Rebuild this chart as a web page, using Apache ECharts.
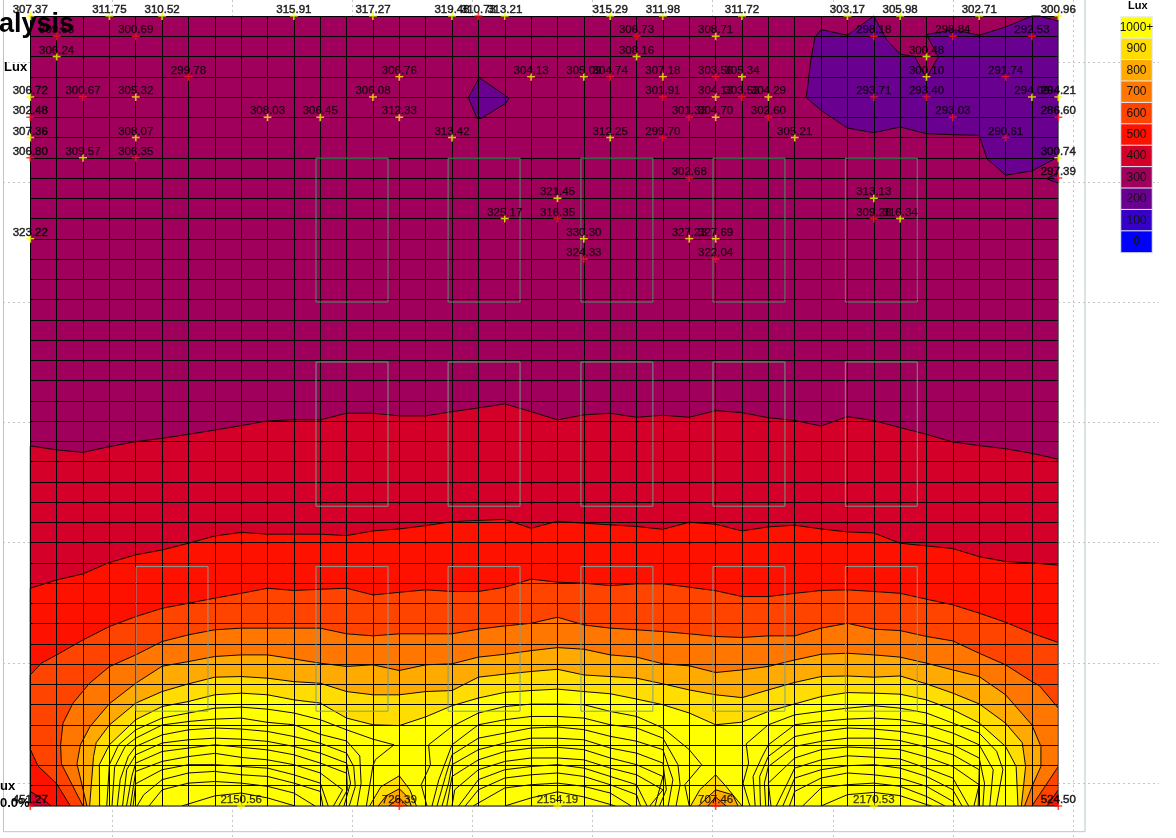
<!DOCTYPE html>
<html><head><meta charset="utf-8">
<style>html,body{margin:0;padding:0;background:#fff}#c{width:1176px;height:838px}</style>
<script src="https://cdn.jsdelivr.net/npm/echarts@6/dist/echarts.min.js"></script>
</head><body><div id="c"></div>
<script>
// Measurement points: [grid column, grid row, lux]
const yellowPoints=[[0,0,307.37],[3,0,311.75],[5,0,310.52],[10,0,315.91],[13,0,317.27],[1,2,306.24],[14,3,306.76],[0,4,306.72],[4,4,305.32],[13,4,306.08],[9,5,308.03],[11,5,306.45],[14,5,312.33],[0,6,307.36],[4,6,308.07],[2,7,309.57],[0,11,323.22],
[16,0,319.48],[18,0,313.21],[22,0,315.29],[24,0,311.98],[27,0,311.72],[26,1,308.71],[23,2,308.16],[19,3,304.13],[21,3,305.09],[24,3,307.18],[27,3,305.34],[26,4,304.13],[28,4,304.29],[26,5,304.70],[16,6,313.42],[22,6,312.25],[29,6,305.21],[20,9,321.45],[18,10,325.17],[21,11,330.30],[25,11,327.23],[26,11,327.69],
[31,0,303.17],[33,0,305.98],[36,0,302.71],[39,0,300.96],[34,2,300.48],[34,3,300.10],[38,4,294.09],[39,4,294.21],[39,7,300.74],[32,9,313.13],[33,10,316.34],[8,39,2150.56],[20,39,2154.19],[32,39,2170.53]];
const redPoints=[[1,1,309.58],[4,1,300.69],[6,3,299.78],[2,4,300.67],[0,5,302.48],[0,7,306.80],[4,7,306.35],[17,0,310.73],[23,1,306.73],[22,3,304.74],[26,3,303.56],[24,4,301.91],[27,4,303.53],[25,5,301.33],[28,5,302.60],[24,6,299.70],[25,8,302.68],[20,10,316.35],[21,12,324.33],[26,12,322.04],
[32,1,298.18],[35,1,298.84],[38,1,292.53],[37,3,291.74],[32,4,293.71],[34,4,293.40],[35,5,293.03],[39,5,286.60],[37,6,290.61],[39,8,297.39],[32,10,309.28],[0,39,451.27],[14,39,726.39],[26,39,707.46],[39,39,524.50]];

// Contour boundaries: row of the boundary at successive grid columns
const c400Rows=[21.22,21.42,21.54,21.26,21.01,20.85,20.65,20.44,20.22,19.99,19.93,19.94,19.61,19.61,19.74,19.74,19.53,19.35,19.15,19.53,19.94,19.69,19.61,19.81,19.71,19.81,19.48,19.58,19.83,19.97,20.24,19.78,19.97,20.32,20.65,21.03,21.21,21.36,21.59,21.88];
const c500Rows=[28.25,27.84,27.54,26.98,26.6,26.36,26.03,25.67,25.49,25.58,25.58,25.58,25.65,25.42,25.32,25.16,24.96,24.9,24.85,25.29,24.94,25.04,25.12,25.2,25.34,24.99,25.09,25.42,25.22,25.14,25.32,25.47,25.52,26.03,26.16,26.29,26.69,26.93,27.0,27.11];
const c600Rows=[31.54,30.8,30.14,29.65,29.24,28.99,28.74,28.5,28.25,28.36,28.3,28.25,28.58,28.45,28.33,28.41,28.41,28.2,27.8,27.95,28.0,28.12,28.03,28.03,28.2,28.37,28.66,28.66,28.5,28.36,28.33,28.41,28.5,28.79,29.07,29.48,29.93,30.47,30.93];
const c700Rows=[32.12,31.54,30.88,30.55,30.3,30.22,30.22,30.22,30.22,30.5,30.6,30.5,30.5,30.5,30.27,30.11,29.98,29.68,30.06,30.22,30.3,30.39,30.5,30.63,30.68,30.6,30.6,30.22,29.98,30.27,30.34,30.63,30.85,31.46,32.03,32.86];
const c800Rows=[33.95,32.94,32.1,31.87,31.62,31.54,31.54,31.74,31.95,32.11,32.03,32.31,32.03,31.98,31.65,31.51,31.33,31.18,31.26,31.54,31.65,31.98,32.08,32.41,32.28,32.11,31.79,31.51,31.46,31.54,31.65,31.95,32.28,32.61,33.51,35.0];
const c900Rows=[35,33.92,33.35,32.97,32.64,32.61,32.69,32.86,32.94,33.35,33.51,33.51,33.35,33.3,32.64,32.49,32.36,32.25,32.53,32.61,32.69,32.97,33.27,33.51,33.65,33.27,32.9,32.61,32.58,32.64,32.58,32.97,33.43,33.96,34.91];
const c1000Rows=[35.98,34.74,34.09,33.84,33.51,33.43,33.51,33.76,33.92,34.66,34.99,35.03,34.6,34.05,33.67,33.39,33.3,33.23,33.35,33.46,33.72,34.0,34.41,34.99,34.86,34.33,33.96,33.6,33.4,33.43,33.48,33.76,34.25,34.9,36.06];

// Free-form ends of the boundaries and closed low/high regions [column,row]
const c600Left=[[0,36.2],[0.29,37.02],[1,37.9],[1.52,39],[38.57,39],[39,38.2]], c600Start=[[0,32.53],[0.42,31.95]];
const c700Left=[[2,39],[1.18,36.92],[1.15,35.98],[1.24,34.91],[1.62,33.92],[2.25,32.94]], c700Right=[[38.29,33.07],[39,34.17],[39,37.05],[38,39]];
const c800Left=[[2.15,39],[1.77,36.92],[1.9,35.98],[2.27,35.07]], c800Right=[[38.34,36.06],[38.34,37.05],[38,38.04],[37.72,39]];
const c900Left=[[2.25,39],[2.4,36.56],[2.5,35.87]], c900Right=[[37.63,35.87],[37.76,37.05],[37.6,39]];
const c1000Left=[[2.63,39],[2.62,36.96]], c1000Right=[[37.4,37.05],[37.47,39]];
const lowIsland=[[16.62,4.03],[17.03,3.04],[18.16,4.05],[18.05,4.3],[17.1,5.06],[16.95,5.06]];
const lowCorner=[[29.44,4.03],[29.61,2.19],[29.77,1.04],[30,0.67],[31,0.95],[32,0],[32.46,1.12],[33,1.89],[33.54,1.99],[34,3.04],[34.45,2.02],[34,0.92],[35,0.67],[36,0.95],[37,0.54],[38,0],[38.29,0],[39,0.25],[39,6.96],[38,7.65],[37,7.86],[36.29,7.04],[36,5.89],[35,5.86],[34,5.81],[33,5.48],[32,5.76],[31,5.53],[30,4.66]];
const lowSliver=[[39,7.75],[38.54,8.03],[39,8.25]];
const cornerLow=[[0,38.28],[0.42,38.61],[0.8,39],[0,39]];
const lobeA900=[[12.87,39],[13.3,38.05],[14,37.51],[14.4,38.2],[14.65,39]];
const lobeA800=[[13.2,39],[13.5,38.5],[14,38.15],[14.35,38.6],[14.45,39]];
const lobeA700=[[13.6,39],[14,38.6],[14.3,39]];
const lobeB900=[[25.05,39],[25.4,38.2],[26,37.46],[26.4,38.04],[27,39]];
const lobeB800=[[25.35,39],[26,38.2],[26.65,38.45],[26.85,39]];
const lobeB700=[[25.7,39],[26,38.56],[26.4,39]];

// Contours above 1000 lux in the three bright lobes
const leftDomeLines=[
[[2.9,39],[3,36.96],[3.35,35.98],[4,35.24],[5,34.66],[6,34.41],[7,34.17],[8,34.12],[9,34.22],[10,34.41],[11,34.74],[12,35.24],[13,35.7],[13.8,35.98],[13.1,36.7],[13,37],[12.75,39]],
[[3.1,39],[3.2,37.08],[3.6,36.06],[4,35.65],[5,35],[6,34.83],[7,34.71],[8,34.66],[9,34.87],[10,34.99],[11,35.46],[12,35.79],[12.5,36.53],[12.55,37.88],[12.4,39]],
[[3.3,39],[3.41,37.7],[3.72,36.55],[4,36.06],[5,35.49],[6,35.24],[7,35.15],[8,35.2],[9,35.32],[10,35.57],[11,35.9],[12,36.39],[12.27,37.05],[12.33,38.04],[12.1,39]],
[[3.5,39],[3.66,37.2],[4,36.47],[5,35.89],[6,35.73],[7,35.65],[8,35.7],[9,35.81],[10,36.06],[11,36.39],[12,36.88],[12.15,37.87],[11.9,39]],
[[3.65,39],[3.85,37.54],[4,36.88],[5,36.31],[6,36.14],[7,35.98],[8,36.1],[9,36.23],[10,36.47],[11,36.88],[12,37.38],[12.03,38.2],[11.7,39]],
[[3.8,39],[4,37.29],[5,36.8],[6,36.56],[7,36.4],[8,36.6],[9,36.72],[10,36.96],[11,37.37],[11.85,38.2],[11.5,39]],
[[3.9,39],[4,37.9],[5,37.21],[6,36.96],[7,36.96],[8,37.05],[9,37.13],[10,37.46],[11,37.87],[11.3,39]],
[[4.05,39],[4.3,38.45],[5,37.7],[6,37.37],[7,37.29],[8,37.46],[9,37.54],[10,37.87],[11,38.28],[11.1,39]],
[[4.5,39],[5,38.2],[6,37.87],[7,37.79],[8,37.87],[9,38.03],[10,38.36],[10.8,39]],
[[5.75,39],[7,38.5],[8,38.36],[9,38.6],[10.05,39]]];
const midDomeLines=[
[[15.05,39],[14.83,37.95],[15.18,36.96],[15.11,35.98],[16,35.07],[17,34.41],[18,34.09],[19,33.97],[20,33.97],[21,34],[22,34.33],[23,34.58],[24,35.15],[25,36.22],[25.47,36.96],[24.83,37.95],[25,39]],
[[15.24,39],[15.5,37.7],[16,35.98],[17,34.99],[18,34.74],[19,34.58],[20,34.58],[21,34.66],[22,34.99],[23,35.15],[24,35.65],[24.57,36.96],[24.65,37.95],[24.5,39]],
[[15.43,39],[15.75,37.54],[16,36.47],[17,35.65],[18,35.4],[19,35.15],[20,35.1],[21,35.23],[22,35.56],[23,35.8],[24,36.22],[24.38,37.7],[24.2,39]],
[[15.62,39],[15.87,37.87],[16,36.96],[17,36.22],[18,35.89],[19,35.65],[20,35.65],[21,35.73],[22,36.14],[23,36.39],[24,36.88],[24.13,38.2],[23.87,39]],
[[15.8,39],[16,37.54],[17,36.72],[18,36.31],[19,36.14],[20,36.1],[21,36.22],[22,36.63],[23,36.96],[24,37.54],[23.7,39]],
[[16,39],[16.1,38.2],[17,37.21],[18,36.8],[19,36.63],[20,36.63],[21,36.72],[22,37.13],[23,37.46],[24,38.2],[23.5,39]],
[[16.25,39],[17,37.7],[18,37.21],[19,37.05],[20,36.96],[21,37.13],[22,37.54],[23,37.95],[23.4,39]],
[[16.5,39],[17,38.2],[18,37.62],[19,37.46],[20,37.37],[21,37.54],[22,37.95],[23,38.44],[23.15,39]],
[[16.8,39],[18,38.11],[19,37.95],[20,37.87],[21,38.03],[22,38.36],[22.8,39]],
[[18,39],[19,38.6],[20,38.3],[21,38.55],[22.2,39]]];
const rightDomeLines=[
[[27.3,39],[27.04,37.87],[27.25,36.88],[27.16,35.93],[28,34.99],[29,34.5],[30,34.33],[31,34.17],[32,34.05],[33,34.17],[34,34.41],[35,34.91],[36,35.4],[36.66,36.3],[36.9,37.2],[36.65,39]],
[[27.5,39],[27.42,37.54],[27.74,36.63],[28,35.98],[29,34.99],[30,34.83],[31,34.71],[32,34.66],[33,34.74],[34,34.99],[35,35.4],[36,35.98],[36.53,37.21],[36.4,39]],
[[27.7,39],[27.67,37.54],[28,36.55],[29,35.57],[30,35.32],[31,35.15],[32,35.2],[33,35.32],[34,35.57],[35,35.98],[36,36.63],[36.2,37.87],[36.14,39]],
[[27.9,39],[27.85,37.87],[28,37.05],[29,36.06],[30,35.81],[31,35.65],[32,35.65],[33,35.77],[34,36.09],[35,36.47],[36,37.21],[35.96,39]],
[[28.1,39],[28,37.87],[29,36.63],[30,36.22],[31,36.09],[32,36.14],[33,36.22],[34,36.58],[35,37.05],[36,37.95],[35.8,39]],
[[28.3,39],[29,37.13],[30,36.72],[31,36.52],[32,36.59],[33,36.68],[34,37.13],[35,37.62],[35.6,39]],
[[28.55,39],[29,37.62],[30,37.21],[31,37.01],[32,36.96],[33,37.13],[34,37.54],[35,38.2],[35.35,39]],
[[28.8,39],[29,38.28],[30,37.62],[31,37.37],[32,37.46],[33,37.62],[34,38.03],[35,38.77],[35.1,39]],
[[29.3,39],[30,38.11],[31,37.95],[32,37.87],[33,38.03],[34,38.53],[34.7,39]],
[[30,39],[31,38.44],[32,38.33],[33,38.49],[34,38.93],[34.2,39]]];

// Luminaire outlines: [left column, top row, right column, bottom row]
const luminaires=[[10.84,7.02,13.57,14.12],[15.85,7.02,18.58,14.12],[20.89,7.02,23.62,14.12],[25.9,7.02,28.63,14.12],[30.92,7.02,33.65,14.12],
[10.84,17.08,13.57,24.2],[15.85,17.08,18.58,24.2],[20.89,17.08,23.62,24.2],[25.9,17.08,28.63,24.2],[30.92,17.08,33.65,24.2],
[4.01,27.18,6.74,34.32],[10.84,27.18,13.57,34.32],[15.85,27.18,18.58,34.32],[20.89,27.18,23.62,34.32],[25.9,27.18,28.63,34.32],[30.92,27.18,33.65,34.32]];

const legendLabels=['1000+','900','800','700','600','500','400','300','200','100','0'];
const legendColors=['#FFFF00','#FFDD00','#FFAA00','#FF7700','#FF4400','#FF1100','#D5002A','#A0005C','#6A0090','#3500C8','#0000FF'];
const colorOf=l=>legendColors[legendLabels.indexOf(l)];
const FONT='"Liberation Sans", Arial, sans-serif';

const trace=(start,rows)=>rows.map((r,i)=>[start+i,r]);
const closeDown=a=>a.concat([[39,39],[0,39]]);
const LINE='#100800';

function polygon(points,fill,z){
  return {type:'custom',coordinateSystem:'cartesian2d',xAxisIndex:0,yAxisIndex:0,z:z||1,silent:true,clip:false,
    data:points,encode:{x:0,y:1},
    renderItem:(p,api)=>p.dataIndex!==0?null:{type:'polygon',
      shape:{points:points.map(q=>api.coord(q))},
      style:{fill:fill,stroke:fill===colorOf('300')&&points.length===4&&points[1][1]===0?null:LINE,lineWidth:1}}};
}
function lines(list){
  return list.map(d=>({type:'line',xAxisIndex:0,yAxisIndex:0,z:1,silent:true,data:d,showSymbol:false,symbol:'none',
    lineStyle:{color:LINE,width:1},animation:false}));
}
function points(list,color){
  return {type:'scatter',xAxisIndex:0,yAxisIndex:0,z:5,silent:true,clip:false,symbolSize:8,
    symbol:'path://M-1,-5H1V-1H5V1H1V5H-1V1H-5V-1H-1Z',itemStyle:{color:color},
    data:list.map(d=>{
      const edge=d[1]===0||d[0]===0||d[0]===39;
      return {value:d,label:edge?{textBorderColor:'#000',textBorderWidth:0.5,color:'#000'}:{}};
    }),
    label:{show:true,position:'top',distance:-4,fontFamily:FONT,fontSize:11.5,color:'#000',textBorderColor:'#000',textBorderWidth:0.25,
      formatter:p=>p.value[2].toFixed(2)}};
}

const fills=[
  polygon([[0,0],[39,0],[39,39],[0,39]],colorOf('300')),
  polygon(closeDown(trace(0,c400Rows)),colorOf('400')),
  polygon(closeDown(trace(0,c500Rows)),colorOf('500')),
  polygon(c600Start.concat(trace(1,c600Rows),c600Left.slice().reverse()),colorOf('600')),
  polygon(c700Left.concat(trace(3,c700Rows),c700Right),colorOf('700')),
  polygon(c800Left.concat(trace(3,c800Rows),c800Right),colorOf('800')),
  polygon(c900Left.concat(trace(3,c900Rows),c900Right),colorOf('900')),
  polygon(c1000Left.concat(trace(3,c1000Rows),c1000Right),colorOf('1000+')),
  polygon(lowIsland,colorOf('200')),polygon(lowCorner,colorOf('200')),polygon(lowSliver,colorOf('200')),
  polygon(cornerLow,colorOf('400')),
  polygon(lobeA900,colorOf('900')),polygon(lobeA800,colorOf('800')),polygon(lobeA700,colorOf('700')),
  polygon(lobeB900,colorOf('900')),polygon(lobeB800,colorOf('800')),polygon(lobeB700,colorOf('700'))
];

const luminaireSeries={type:'custom',xAxisIndex:0,yAxisIndex:0,z:3,silent:true,data:luminaires,
  encode:{x:[0,2],y:[1,3]},
  renderItem:(p,api)=>{
    const a=api.coord([api.value(0),api.value(1)]),b=api.coord([api.value(2),api.value(3)]);
    const top=api.value(1);
    return {type:'rect',shape:{x:a[0],y:a[1],width:b[0]-a[0],height:b[1]-a[1]},
      style:{fill:null,stroke:top<10?'#47905f':top<20?'#6a9a7c':'#7f9c94',lineWidth:1}};
  }};

const legendSeries={type:'heatmap',xAxisIndex:3,yAxisIndex:3,silent:true,z:2,
  data:legendLabels.map((l,i)=>({value:[0,l,i],itemStyle:{color:legendColors[i],borderColor:'#e4eaf4',borderWidth:1}})),
  label:{show:true,fontFamily:FONT,fontSize:12,color:'#111',formatter:p=>p.value[1]}};

const dash={show:true,lineStyle:{color:'#c6c6c6',width:1,type:[2,3]}};
const T=(text,x,y,size,extra)=>({type:'text',x:x,y:y,z:20,silent:true,
  style:Object.assign({text:text,fontFamily:FONT,fontSize:size,fontWeight:'bold',fill:'#000',verticalAlign:'middle'},extra||{})});

const option={
  animation:false,
  backgroundColor:'#fff',
  grid:[
    {left:30.3,top:16,width:1028,height:790},
    {left:112,top:0,width:961,height:838},
    {left:3,top:62,width:1156,height:721},
    {left:1121,top:17,width:31,height:235.5}
  ],
  xAxis:[
    {type:'value',gridIndex:0,min:0,max:39,interval:1,z:2,axisLabel:{show:false},axisTick:{show:false},
     axisLine:{show:true,onZero:false,lineStyle:{color:'#777'}},splitLine:{show:true,lineStyle:{color:'#000',width:1}}},
    {type:'value',gridIndex:1,min:0,max:8,interval:1,z:0,axisLabel:{show:false},axisTick:{show:false},axisLine:{show:false},splitLine:dash},
    {type:'value',gridIndex:2,min:0,max:1,axisLabel:{show:false},axisTick:{show:false},axisLine:{show:false},splitLine:{show:false}},
    {type:'category',gridIndex:3,data:['Lux'],show:false}
  ],
  yAxis:[
    {type:'value',gridIndex:0,inverse:true,min:0,max:39,interval:1,position:'right',z:2,axisLabel:{show:false},axisTick:{show:false},
     axisLine:{show:true,onZero:false,lineStyle:{color:'#777'}},splitLine:{show:true,lineStyle:{color:'#000',width:1}}},
    {type:'value',gridIndex:1,min:0,max:1,axisLabel:{show:false},axisTick:{show:false},axisLine:{show:false},splitLine:{show:false}},
    {type:'value',gridIndex:2,min:0,max:6,interval:1,z:0,axisLabel:{show:false},axisTick:{show:false},axisLine:{show:false},splitLine:dash},
    {type:'category',gridIndex:3,inverse:true,data:legendLabels,show:false}
  ],
  graphic:[
    {type:'rect',z:-5,silent:true,shape:{x:3.5,y:-5,width:1081.5,height:836.7},style:{fill:null,stroke:'#b6cabd',lineWidth:1}},
    T('alysis',-1,25,27),
    T('Lux',4,67,13),
    T('ux',0,786,13),
    T('0.0%',0,803,13),
    T('Lux',1128,6,11)
  ],
  series:[...fills,...lines(leftDomeLines),...lines(midDomeLines),...lines(rightDomeLines),luminaireSeries,
    points(yellowPoints,'#FFFF00'),points(redPoints,'#FF1818'),legendSeries]
};
const chart=echarts.init(document.getElementById('c'),null,{renderer:'canvas',width:1176,height:838});
chart.setOption(option);
</script></body></html>
